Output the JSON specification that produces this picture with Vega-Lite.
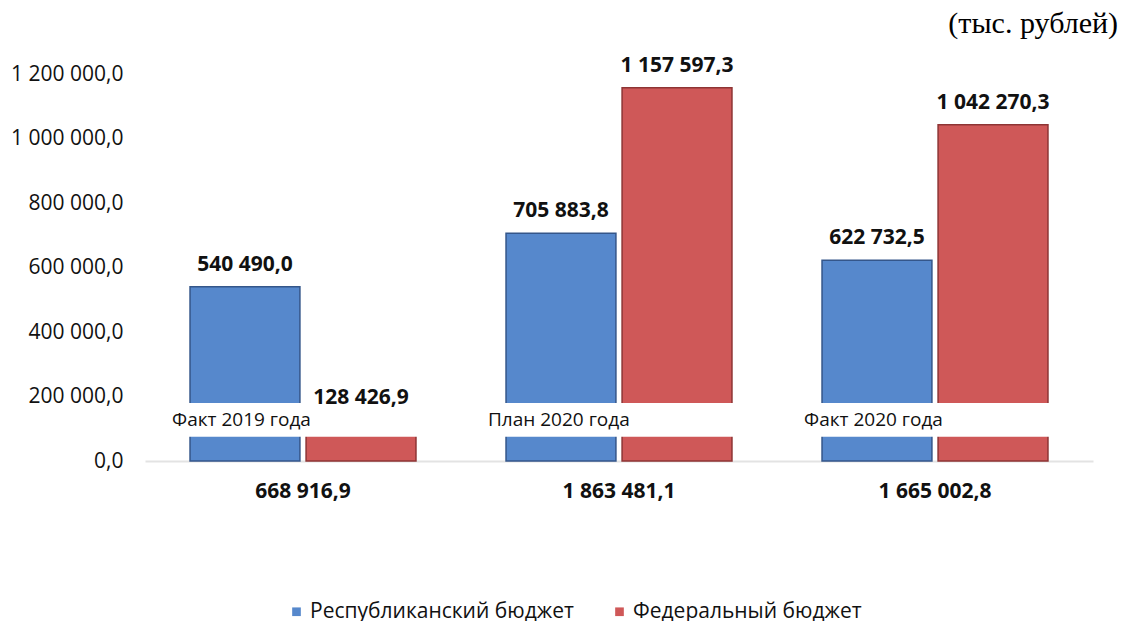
{
  "$schema": "https://vega.github.io/schema/vega-lite/v6.json",
  "autosize": "none",
  "width": 948,
  "height": 387,
  "padding": {"left": 145, "top": 74, "right": 32, "bottom": 160},
  "background": "white",
  "title": {
    "text": "(тыс. рублей)",
    "font": "Liberation Serif",
    "fontSize": 30,
    "fontWeight": "normal",
    "color": "#000000",
    "anchor": "end",
    "frame": "group",
    "dx": 25,
    "offset": 16
  },
  "config": {
    "view": {"stroke": null},
    "locale": {"number": {"decimal": ",", "thousands": " ", "grouping": [3], "currency": ["", ""]}},
    "font": "Open Sans"
  },
  "data": {
    "values": [
      {"cat": "Факт 2019 года", "series": "Республиканский бюджет", "value": 540490.0},
      {"cat": "Факт 2019 года", "series": "Федеральный бюджет", "value": 128426.9},
      {"cat": "План 2020 года", "series": "Республиканский бюджет", "value": 705883.8},
      {"cat": "План 2020 года", "series": "Федеральный бюджет", "value": 1157597.3},
      {"cat": "Факт 2020 года", "series": "Республиканский бюджет", "value": 622732.5},
      {"cat": "Факт 2020 года", "series": "Федеральный бюджет", "value": 1042270.3}
    ]
  },
  "layer": [
    {
      "mark": {"type": "bar", "strokeWidth": 1.5},
      "encoding": {
        "x": {
          "field": "cat",
          "type": "nominal",
          "sort": ["Факт 2019 года", "План 2020 года", "Факт 2020 года"],
          "scale": {"paddingInner": 0.285, "paddingOuter": 0.1425},
          "axis": {"labels": false, "ticks": false, "title": null, "domainColor": "#e3e3e3", "domainWidth": 2}
        },
        "xOffset": {"field": "series", "type": "nominal", "sort": ["Республиканский бюджет", "Федеральный бюджет"], "scale": {"paddingInner": 0.053, "paddingOuter": 0}},
        "y": {
          "field": "value",
          "type": "quantitative",
          "scale": {"domain": [0, 1200000], "nice": false},
          "axis": {
            "values": [0, 200000, 400000, 600000, 800000, 1000000, 1200000],
            "format": ",.1f",
            "grid": false,
            "domain": false,
            "ticks": false,
            "title": null,
            "labelFontSize": 21,
            "labelColor": "#111111",
            "labelPadding": 22
          }
        },
        "color": {
          "field": "series",
          "type": "nominal",
          "scale": {"domain": ["Республиканский бюджет", "Федеральный бюджет"], "range": ["#5688cc", "#cf5858"]},
          "legend": {
            "orient": "none",
            "legendX": 141,
            "legendY": 527,
            "direction": "horizontal",
            "title": null,
            "symbolType": "square",
            "symbolSize": 75,
            "symbolStrokeWidth": 0,
            "labelFontSize": 21,
            "labelLimit": 0,
            "labelColor": "#111111",
            "columnPadding": 35,
            "labelOffset": 3
          }
        },
        "stroke": {
          "field": "series",
          "type": "nominal",
          "scale": {"domain": ["Республиканский бюджет", "Федеральный бюджет"], "range": ["#34568a", "#8e3434"]},
          "legend": null
        }
      }
    },
    {
      "data": {"values": [{"lo": 75000, "hi": 180000}]},
      "mark": {"type": "rect", "color": "white"},
      "encoding": {
        "y": {"field": "lo", "type": "quantitative"},
        "y2": {"field": "hi"}
      }
    },
    {
      "data": {
        "values": [
          {"cat": "Факт 2019 года", "ylab": 127000, "total": 668916.9},
          {"cat": "План 2020 года", "ylab": 127000, "total": 1863481.1},
          {"cat": "Факт 2020 года", "ylab": 127000, "total": 1665002.8}
        ]
      },
      "layer": [
        {
          "mark": {"type": "text", "align": "left", "baseline": "middle", "dx": -18, "fontSize": 19, "color": "#111111"},
          "encoding": {
            "x": {"field": "cat", "type": "nominal", "sort": ["Факт 2019 года", "План 2020 года", "Факт 2020 года"], "bandPosition": 0},
            "y": {"field": "ylab", "type": "quantitative"},
            "text": {"field": "cat"}
          }
        },
        {
          "mark": {"type": "text", "align": "center", "baseline": "middle", "dy": 31, "fontSize": 21, "fontWeight": "bold", "color": "#111111"},
          "encoding": {
            "x": {"field": "cat", "type": "nominal", "sort": ["Факт 2019 года", "План 2020 года", "Факт 2020 года"]},
            "y": {"datum": 0, "type": "quantitative"},
            "text": {"field": "total", "type": "quantitative", "format": ",.1f"}
          }
        }
      ]
    },
    {
      "mark": {"type": "text", "align": "center", "baseline": "middle", "dy": -22, "fontSize": 21, "fontWeight": "bold", "color": "#111111"},
      "encoding": {
        "x": {"field": "cat", "type": "nominal", "sort": ["Факт 2019 года", "План 2020 года", "Факт 2020 года"]},
        "xOffset": {"field": "series", "type": "nominal", "sort": ["Республиканский бюджет", "Федеральный бюджет"]},
        "y": {"field": "value", "type": "quantitative"},
        "text": {"field": "value", "type": "quantitative", "format": ",.1f"}
      }
    }
  ]
}
